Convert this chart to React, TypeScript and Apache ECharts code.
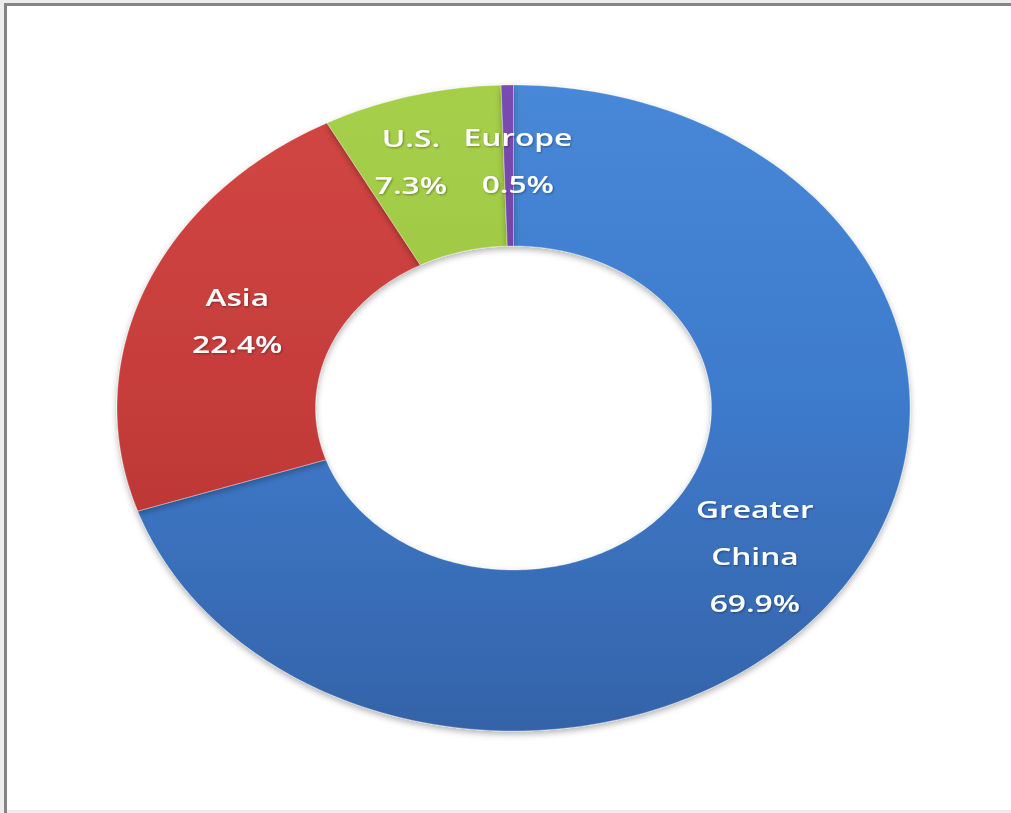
import React, { useEffect, useRef } from "react";
import * as echarts from "echarts";

// ---- data ----
const categories = ["Greater China", "Asia", "U.S.", "Europe"];
const shares = [69.9, 22.4, 7.3, 0.5];

// ---- styles ----
const colorTop = ["#4788d8", "#d24744", "#a6cf4a", "#7a4cb2"];
const colorMid = ["#3e7acb", "#c53c3a", "#9dc640", "#6b3fa0"];
const colorBottom = ["#3463a8", "#ad302e", "#8cb43a", "#5c338e"];
const labelNudge: Record<string, [number, number]> = {
  "Greater China": [0, 6],
  Asia: [0, 2],
  "U.S.": [-26, -13],
  Europe: [9, -5],
};
const CX = 513.5 / 1011;
const CY = 408 / 813;
const RXO = 396.5;
const RYO = 323;
const RXI = 198;
const RYI = 162;

const total = shares.reduce((a, b) => a + b, 0);
const starts: number[] = [];
shares.reduce((acc, v) => {
  starts.push(acc);
  return acc + v;
}, 0);

export default function App() {
  const ref = useRef<HTMLDivElement>(null);
  useEffect(() => {
    if (!ref.current) return;
    const chart = echarts.init(ref.current, null, { renderer: "svg" });

    const renderItem = (params: any, api: any) => {
      const i = params.dataIndex;
      const val = api.value(0);
      const start = api.value(1);
      const W = api.getWidth();
      const H = api.getHeight();
      const cx = W * CX;
      const cy = H * CY;
      const a0 = (start / total) * Math.PI * 2;
      const a1 = ((start + val) / total) * Math.PI * 2;
      const n = Math.max(4, Math.ceil(((a1 - a0) * 180) / Math.PI));
      const pts: number[][] = [];
      for (let k = 0; k <= n; k++) {
        const a = a0 + ((a1 - a0) * k) / n;
        pts.push([cx + RXO * Math.sin(a), cy - RYO * Math.cos(a)]);
      }
      for (let k = n; k >= 0; k--) {
        const a = a0 + ((a1 - a0) * k) / n;
        pts.push([cx + RXI * Math.sin(a), cy - RYI * Math.cos(a)]);
      }
      const am = (a0 + a1) / 2;
      const name = categories[i];
      const nudge = labelNudge[name] || [0, 0];
      const lx = cx + ((RXO + RXI) / 2) * Math.sin(am) + nudge[0];
      const ly = cy - ((RYO + RYI) / 2) * Math.cos(am) + nudge[1];
      const pct = val.toFixed(1) + "%";
      const text = name.replace(" ", "\n") + "\n" + pct;
      return {
        type: "group",
        children: [
          {
            type: "polygon",
            shape: { points: pts },
            style: {
              fill: new echarts.graphic.LinearGradient(
                0,
                cy - RYO,
                0,
                cy + RYO,
                [
                  { offset: 0, color: colorTop[i] },
                  { offset: 0.5, color: colorMid[i] },
                  { offset: 1, color: colorBottom[i] },
                ],
                true
              ),
              stroke: "rgba(255,255,255,0.3)",
              lineWidth: 1,
              shadowBlur: 6,
              shadowOffsetY: 3,
              shadowColor: "rgba(0,0,0,0.3)",
            },
          },
          {
            type: "text",
            x: lx,
            y: ly,
            scaleX: 1.32,
            z2: 10,
            style: {
              text,
              fill: "#ffffff",
              fontFamily: "Open Sans",
              fontWeight: 600,
              fontSize: 24,
              lineHeight: 47,
              align: "center",
              verticalAlign: "middle",
              textShadowColor: "rgba(0,0,0,0.35)",
              textShadowBlur: 2,
              textShadowOffsetX: 1,
              textShadowOffsetY: 1,
            },
          },
        ],
      };
    };

    chart.setOption({
      animation: false,
      backgroundColor: "#ededed",
      graphic: [
        {
          type: "rect",
          z: 0,
          shape: { x: 5, y: 4, width: 1010, height: 806 },
          style: { fill: "#ffffff" },
        },
        {
          type: "line",
          z: 0,
          shape: { x1: 5.5, y1: 4, x2: 5.5, y2: 813 },
          style: { stroke: "#858585", lineWidth: 3 },
        },
        {
          type: "line",
          z: 0,
          shape: { x1: 4, y1: 4.5, x2: 1011, y2: 4.5 },
          style: { stroke: "#858585", lineWidth: 3 },
        },
      ],
      series: [
        {
          type: "custom",
          coordinateSystem: "none",
          z: 2,
          renderItem,
          data: shares.map((v, i) => [v, starts[i]]),
        },
      ],
    });
    return () => chart.dispose();
  }, []);
  return (
    <div
      ref={ref}
      style={{ position: "absolute", left: 0, top: 0, width: 1011, height: 813 }}
    />
  );
}
